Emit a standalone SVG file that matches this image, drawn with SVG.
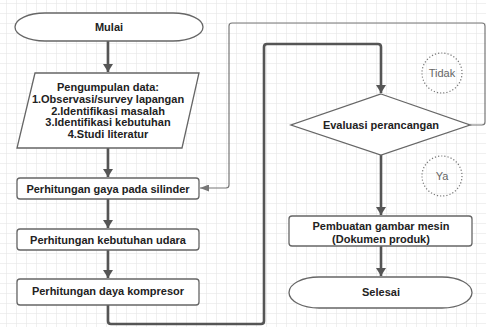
<svg xmlns="http://www.w3.org/2000/svg" width="486" height="327" viewBox="0 0 486 327">
<defs>
<pattern id="grid" x="6" y="3" width="10" height="10" patternUnits="userSpaceOnUse">
<path d="M0 0H10M0 0V10" fill="none" stroke="#e2e2e2" stroke-width="1"/>
</pattern>
<marker id="arr" markerWidth="8" markerHeight="10" refX="8" refY="5" orient="auto" markerUnits="userSpaceOnUse">
<path d="M0 0L8 5L0 10Z" fill="#555"/>
</marker>
<marker id="arrs" markerWidth="9" markerHeight="7" refX="9" refY="3.5" orient="auto" markerUnits="userSpaceOnUse">
<path d="M0 0L9 3.5L0 7Z" fill="#777"/>
</marker>
</defs>
<style>
.shape{fill:#fff;stroke:#666;stroke-width:1.3}
.t{font-family:"Liberation Sans",Arial,sans-serif;font-size:11px;font-weight:bold;fill:#222;text-anchor:middle;dominant-baseline:central}
.lbl{font-family:"Liberation Sans",Arial,sans-serif;font-size:11px;fill:#666;text-anchor:middle;dominant-baseline:central}
.flow{fill:none;stroke:#555;stroke-width:2.6;stroke-linejoin:round}
.thin{fill:none;stroke:#777;stroke-width:1.2;stroke-linejoin:round}
.dot{fill:none;stroke:#777;stroke-width:1.2;stroke-dasharray:1.2 2}
</style>
<rect width="486" height="327" fill="#fff"/>
<rect width="486" height="327" fill="url(#grid)"/>
<g id="connectors">
<path class="flow" d="M108 41V72" marker-end="url(#arr)"/>
<path class="flow" d="M108 148V177" marker-end="url(#arr)"/>
<path class="flow" d="M108 199V228" marker-end="url(#arr)"/>
<path class="flow" d="M108 250V278" marker-end="url(#arr)"/>
<path class="flow" d="M108 305V321Q108 324 111 324H261Q264 324 264 321V47Q264 44 267 44H378Q381 44 381 47V93" marker-end="url(#arr)"/>
<path class="thin" d="M470 125H482Q485 125 485 122V26Q485 23 482 23H232Q229 23 229 26V185Q229 188 226 188H200" marker-end="url(#arrs)"/>
<path class="flow" d="M381 155V215" marker-end="url(#arr)"/>
<path class="flow" d="M381 246V276" marker-end="url(#arr)"/>
</g>
<g id="mulai">
<rect class="shape" x="15" y="13" width="188" height="28" rx="30" ry="14"/>
<text class="t" x="109" y="27">Mulai</text>
</g>
<g id="pengumpulan">
<path class="shape" d="M35 73H199L182 148H17Z"/>
<text class="t" x="108" y="87">Pengumpulan data:</text>
<text class="t" x="108" y="99">1.Observasi/survey lapangan</text>
<text class="t" x="108" y="110.5">2.Identifikasi masalah</text>
<text class="t" x="108" y="122">3.Identifikasi kebutuhan</text>
<text class="t" x="108" y="133.5">4.Studi literatur</text>
</g>
<g id="gaya">
<rect class="shape" x="17" y="178" width="182" height="21" rx="3"/>
<text class="t" x="108" y="189">Perhitungan gaya pada silinder</text>
</g>
<g id="udara">
<rect class="shape" x="17" y="229" width="182" height="21" rx="3"/>
<text class="t" x="108" y="240">Perhitungan kebutuhan udara</text>
</g>
<g id="kompresor">
<rect class="shape" x="17" y="279" width="182" height="26" rx="3"/>
<text class="t" x="108" y="291">Perhitungan daya kompresor</text>
</g>
<g id="evaluasi">
<path class="shape" d="M381 94L470 125L381 155L291 125Z"/>
<text class="t" x="381" y="125">Evaluasi perancangan</text>
</g>
<g id="tidak">
<circle class="dot" cx="442" cy="73" r="20"/>
<text class="lbl" x="442" y="73">Tidak</text>
</g>
<g id="ya">
<circle class="dot" cx="442" cy="176" r="20"/>
<text class="lbl" x="442" y="176">Ya</text>
</g>
<g id="pembuatan">
<rect class="shape" x="289" y="216" width="183" height="30" rx="3"/>
<text class="t" x="381" y="226">Pembuatan gambar mesin</text>
<text class="t" x="381" y="238.5">(Dokumen produk)</text>
</g>
<g id="selesai">
<rect class="shape" x="289" y="277" width="183" height="31" rx="30" ry="15.5"/>
<text class="t" x="381" y="292">Selesai</text>
</g>
</svg>
